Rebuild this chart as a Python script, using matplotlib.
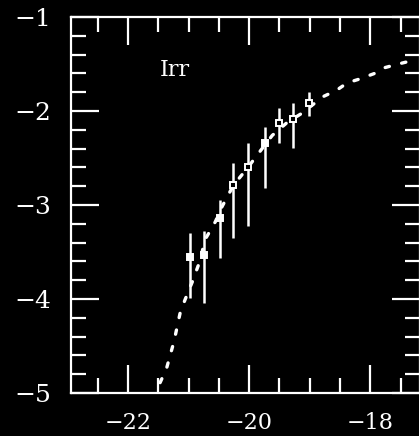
import matplotlib
matplotlib.use("Agg")
import matplotlib.pyplot as plt
from matplotlib.ticker import MultipleLocator

# Data points (magnitude, log phi) with asymmetric error bars
mag = [-20.98, -20.74, -20.48, -20.26, -20.02, -19.74, -19.50, -19.27, -19.01]
logphi = [-3.55, -3.53, -3.14, -2.79, -2.60, -2.34, -2.13, -2.09, -1.92]
err_up = [0.25, 0.25, 0.19, 0.24, 0.26, 0.17, 0.16, 0.18, 0.12]
err_dn = [0.44, 0.51, 0.42, 0.56, 0.62, 0.48, 0.21, 0.30, 0.13]
filled = [True, True, True, False, False, True, False, False, False]

# Dotted fit curve
fit_mag = [-21.47, -21.36, -21.24, -21.14, -21.06, -20.94, -20.81, -20.73,
           -20.56, -20.45, -20.26, -20.02, -19.87, -19.62, -19.37, -19.12,
           -18.79, -18.56, -18.38, -18.18, -17.93, -17.77, -17.54, -17.35]
fit_logphi = [-4.89, -4.73, -4.45, -4.15, -4.01, -3.82, -3.59, -3.37,
              -3.18, -3.02, -2.79, -2.60, -2.47, -2.26, -2.12, -2.02,
              -1.85, -1.78, -1.70, -1.66, -1.60, -1.54, -1.50, -1.47]

label = "Irr"
xticks = [-22, -20, -18]
yticks = [-5, -4, -3, -2, -1]

W, H = 419, 436
fig = plt.figure(figsize=(W / 100, H / 100), dpi=100, facecolor="black")
ax = fig.add_axes([71 / W, 43 / H, (419.5 - 71) / W, (393 - 17) / H], facecolor="black")

ax.plot(fit_mag, fit_logphi, color="white", lw=2.4, linestyle=(0, (1.3, 3.8)),
        dash_capstyle="round")
ax.errorbar(mag, logphi, yerr=[err_dn, err_up], fmt="none", ecolor="white",
            elinewidth=1.8, capsize=0)
for m, p, f in zip(mag, logphi, filled):
    ax.plot(m, p, marker="s", ms=5, mec="white", mew=1.4,
            mfc="white" if f else "black", ls="none")

ax.text(-21.22, -1.56, label, color="white", fontsize=16, family="DejaVu Serif",
        ha="center", va="center")

ax.set_xlim(-22.94, -17.19)
ax.set_ylim(-5, -1)
ax.xaxis.set_minor_locator(MultipleLocator(0.5))
ax.yaxis.set_minor_locator(MultipleLocator(0.2))
ax.set_xticks(xticks)
ax.set_yticks(yticks)

for s in ax.spines.values():
    s.set_color("white")
    s.set_linewidth(1.6)
ax.tick_params(which="both", direction="in", top=True, right=True, colors="white",
               width=1.6)
ax.tick_params(which="major", length=20)
ax.tick_params(which="minor", length=11)
ax.tick_params(axis="y", which="major", pad=14, labelsize=18)
ax.tick_params(axis="x", which="major", pad=14, labelsize=16)
for t in ax.get_xticklabels() + ax.get_yticklabels():
    t.set_family("DejaVu Serif")

fig.savefig("out.png", dpi=100, facecolor="black")
